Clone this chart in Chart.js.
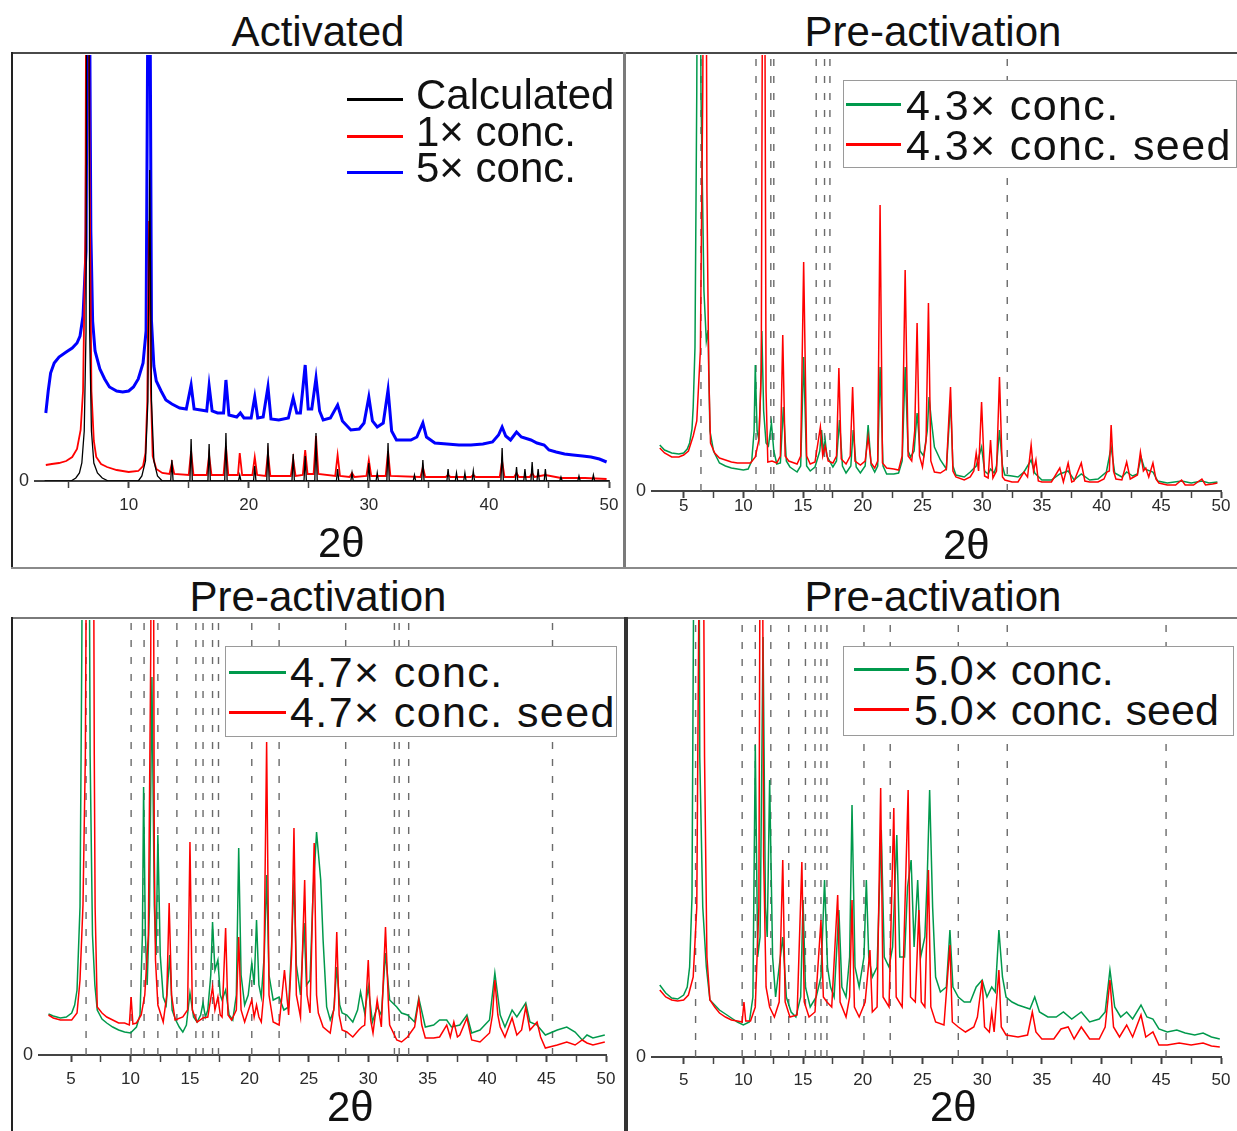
<!DOCTYPE html>
<html lang="en">
<head>
  <meta charset="UTF-8">
  <title>PXRD: activated and pre-activation patterns</title>
  <style>
    body {
      margin: 0;
      background: #fff;
      font-family: 'Liberation Sans', Arial, sans-serif;
      color: #111;
    }

    #figure {
      position: relative;
      width: 1237px;
      height: 1131px;
      overflow: hidden;
    }

    .rule { position: absolute; }

    .panel-title {
      position: absolute;
      font-size: 42px;
      line-height: 42px;
      white-space: nowrap;
      transform: translateX(-50%);
    }

    .axis-label {
      position: absolute;
      font-size: 42px;
      line-height: 42px;
      white-space: nowrap;
    }

    canvas.plot { position: absolute; }

    /* Legends */
    .legend {
      position: absolute;
      font-size: 42px;
      white-space: nowrap;
    }
    .legend.boxed {
      background: #fff;
      border: 1.5px solid #9a9a9a;
      box-sizing: border-box;
      font-size: 43px;
    }
    .legend .row { position: relative; }
    .legend .swatch {
      position: absolute;
      height: 3px;
    }
  </style>
</head>
<body>
  <div id="figure">
    <!-- frame rules -->
    <div class="rule" style="left:11px; top:52px; width:1226px; height:2px; background:#4a4a4a;"></div>
    <div class="rule" style="left:11px; top:52px; width:2px; height:517px; background:#222;"></div>
    <div class="rule" style="left:623px; top:52px; width:3px; height:517px; background:#7a7a7a;"></div>
    <div class="rule" style="left:11px; top:567px; width:1226px; height:2px; background:#8a8a8a;"></div>
    <div class="rule" style="left:11px; top:617px; width:1226px; height:2px; background:#7a7a7a;"></div>
    <div class="rule" style="left:11px; top:617px; width:2px; height:514px; background:#222;"></div>
    <div class="rule" style="left:624px; top:617px; width:4px; height:514px; background:#333;"></div>

    <!-- panel titles -->
    <div class="panel-title" style="left:318px; top:11px;">Activated</div>
    <div class="panel-title" style="left:933px; top:11px;">Pre-activation</div>
    <div class="panel-title" style="left:318px; top:576px;">Pre-activation</div>
    <div class="panel-title" style="left:933px; top:576px;">Pre-activation</div>

    <canvas id="chartActivated" class="plot" width="612" height="466" style="left:12px; top:55px;"></canvas>
    <canvas id="chart43" class="plot" width="609" height="476" style="left:628px; top:55px;"></canvas>
    <canvas id="chart47" class="plot" width="612" height="475" style="left:12px; top:620px;"></canvas>
    <canvas id="chart50" class="plot" width="608" height="477" style="left:629px; top:620px;"></canvas>

    <!-- x axis titles -->
    <div class="axis-label" style="left:318px; top:522px;">2θ</div>
    <div class="axis-label" style="left:943px; top:524px;">2θ</div>
    <div class="axis-label" style="left:327px; top:1086px;">2θ</div>
    <div class="axis-label" style="left:930px; top:1086px;">2θ</div>

    <div id="legendActivated" class="legend" style="left:347px; top:77px;"></div>
    <div id="legend43" class="legend boxed" style="left:843px; top:80px; width:394px; height:88px; letter-spacing:1.4px;"></div>
    <div id="legend47" class="legend boxed" style="left:225px; top:646px; width:392px; height:91px; letter-spacing:1.4px;"></div>
    <div id="legend50" class="legend boxed" style="left:843px; top:646px; width:391px; height:90px;"></div>
  </div>

  <script src="https://cdn.jsdelivr.net/npm/chart.js"></script>
  <script>
    // ---- data: [2theta, intensity] (intensity in arbitrary units) ----

    // Activated panel
    const calcPattern = [
      [3.0, 0], [5.2, 0], [5.6, 3], [5.9, 8], [6.1, 18], [6.3, 50], [6.45, 150], [6.6, 1200], [6.75, 150],
      [6.9, 50], [7.1, 18], [7.4, 8], [7.8, 3], [8.3, 0], [10.8, 0], [11.1, 5], [11.4, 20], [11.6, 80],
      [11.75, 311], [11.9, 80], [12.1, 20], [12.4, 5], [12.8, 0],
      [13.5, 0], [13.6, 21], [13.7, 0], [15.1, 0], [15.2, 42], [15.3, 0], [16.6, 0], [16.7, 37], [16.8, 0],
      [18.0, 0], [18.1, 48], [18.2, 0], [19.15, 0], [19.25, 6], [19.35, 0], [20.4, 0], [20.5, 15], [20.6, 0],
      [21.5, 0], [21.6, 38], [21.7, 0], [23.6, 0], [23.7, 27], [23.8, 0], [24.6, 0], [24.7, 25], [24.8, 0],
      [25.5, 0], [25.6, 48], [25.7, 0], [27.3, 0], [27.4, 12], [27.5, 0], [28.5, 0], [28.6, 8], [28.7, 0],
      [29.9, 0], [30.0, 18], [30.1, 0], [30.6, 0], [30.7, 8], [30.8, 0], [31.5, 0], [31.6, 38], [31.7, 0],
      [33.7, 0], [33.8, 6], [33.9, 0], [34.4, 0], [34.5, 21], [34.6, 0], [36.5, 0], [36.6, 12], [36.7, 0],
      [37.2, 0], [37.3, 8], [37.4, 0], [37.9, 0], [38.0, 8], [38.1, 0], [38.6, 0], [38.7, 10], [38.8, 0],
      [41.0, 0], [41.1, 33], [41.2, 0], [42.2, 0], [42.3, 14], [42.4, 0], [42.9, 0], [43.0, 12], [43.1, 0],
      [43.5, 0], [43.6, 19], [43.7, 0], [44.0, 0], [44.1, 12], [44.2, 0], [44.6, 0], [44.7, 12], [44.8, 0],
      [45.9, 0], [46.0, 4], [46.1, 0], [47.4, 0], [47.5, 5], [47.6, 0], [48.6, 0], [48.7, 6], [48.8, 0], [50.0, 0]
    ];
    const conc1Pattern = [
      [3.1, 16], [3.6, 17], [4.2, 18], [4.8, 20], [5.3, 24], [5.7, 32], [6.0, 51], [6.2, 90], [6.4, 250],
      [6.55, 900], [6.75, 300], [6.9, 90], [7.1, 40], [7.3, 24], [7.7, 17], [8.2, 14], [9.0, 11], [10.0, 9],
      [10.8, 10], [11.2, 15], [11.4, 28], [11.55, 80], [11.7, 260], [11.85, 90], [12.0, 25], [12.3, 12],
      [12.8, 8], [13.4, 7], [13.6, 18], [13.8, 7], [15.0, 6], [15.2, 30], [15.4, 6], [16.5, 6], [16.7, 26],
      [16.9, 6], [17.9, 6], [18.1, 35], [18.3, 6], [19.1, 6], [19.25, 28], [19.45, 6], [20.3, 6], [20.5, 24],
      [20.7, 6], [21.4, 5], [21.6, 28], [21.8, 5], [23.5, 5], [23.7, 22], [23.9, 5], [24.5, 6], [24.7, 31],
      [24.9, 7], [25.4, 7], [25.6, 45], [25.8, 7], [27.2, 5], [27.4, 26], [27.6, 5], [28.4, 4], [28.6, 8],
      [28.8, 4], [29.8, 5], [30.0, 21], [30.2, 5], [31.4, 5], [31.6, 30], [31.8, 5], [34.3, 4], [34.5, 14],
      [34.7, 4], [36.4, 4], [36.6, 6], [36.8, 4], [38.5, 4], [38.7, 6], [38.9, 4], [40.9, 4], [41.1, 20],
      [41.3, 4], [42.1, 4], [42.3, 8], [42.5, 4], [43.4, 4], [43.6, 8], [43.8, 4], [44.7, 6], [46.0, 3],
      [48.0, 3], [49.8, 2]
    ];
    const conc5Pattern = [
      [3.1, 68], [3.3, 90], [3.5, 108], [3.8, 118], [4.2, 124], [4.8, 129], [5.3, 133], [5.7, 138],
      [5.95, 145], [6.2, 165], [6.45, 230], [6.65, 700], [6.85, 250], [7.0, 160], [7.2, 130], [7.6, 112],
      [8.0, 102], [8.4, 94], [9.0, 90], [9.5, 89], [10.0, 90], [10.4, 94], [10.8, 102], [11.2, 118],
      [11.45, 150], [11.7, 700], [11.9, 160], [12.1, 115], [12.3, 100], [12.7, 90], [13.1, 81], [13.6, 77],
      [14.25, 73], [14.8, 72], [15.2, 96], [15.45, 72], [16.0, 71], [16.5, 70], [16.7, 95], [16.95, 70],
      [17.4, 68], [17.9, 68], [18.1, 101], [18.35, 66], [19.0, 64], [19.3, 68], [19.6, 63], [20.2, 63],
      [20.5, 84], [20.75, 63], [21.2, 64], [21.6, 94], [21.85, 62], [22.5, 61], [23.3, 63], [23.7, 83],
      [24.0, 68], [24.3, 68], [24.7, 116], [24.95, 72], [25.25, 72], [25.6, 103], [25.9, 70], [26.2, 61],
      [26.8, 63], [27.4, 76], [27.8, 60], [28.5, 51], [29.2, 52], [29.6, 58], [30.0, 84], [30.3, 60],
      [30.7, 54], [31.2, 58], [31.6, 91], [31.9, 50], [32.3, 41], [33.0, 41], [33.5, 41], [34.0, 44],
      [34.5, 58], [34.8, 44], [35.5, 38], [36.5, 37], [37.5, 36], [38.5, 36], [39.5, 37], [40.3, 39],
      [40.8, 46], [41.1, 54], [41.4, 45], [41.8, 41], [42.3, 49], [42.7, 44], [43.5, 41], [44.0, 38],
      [44.6, 36], [45.0, 31], [45.6, 29], [46.3, 27], [47.0, 26], [47.8, 25], [48.5, 24], [49.2, 22], [49.8, 19]
    ];

    // Pre-activation, 4.3x
    const conc43 = [
      [3.0, 46], [3.4, 41], [4.0, 38], [4.6, 37], [5.0, 38], [5.3, 42], [5.5, 48], [5.7, 62], [5.8, 84],
      [5.95, 144], [6.1, 400], [6.25, 900], [6.45, 400], [6.7, 200], [6.9, 150], [7.05, 161], [7.2, 60],
      [7.5, 40], [8.0, 28], [8.5, 25], [9.0, 23], [9.5, 22], [10.0, 21], [10.4, 22], [10.7, 30], [10.9, 60],
      [11.0, 126], [11.15, 60], [11.3, 51], [11.45, 100], [11.55, 160], [11.7, 80], [11.9, 48], [12.1, 45],
      [12.35, 68], [12.55, 40], [12.8, 27], [13.1, 28], [13.35, 84], [13.6, 30], [13.9, 24], [14.5, 19],
      [14.8, 25], [15.05, 134], [15.3, 25], [15.6, 20], [16.0, 24], [16.4, 40], [16.55, 61], [16.7, 40],
      [16.85, 51], [17.0, 35], [17.5, 24], [17.8, 30], [18.05, 71], [18.3, 25], [18.6, 18], [19.0, 25],
      [19.2, 61], [19.45, 24], [19.8, 18], [20.2, 25], [20.45, 66], [20.7, 26], [21.0, 19], [21.25, 25],
      [21.45, 124], [21.7, 25], [22.0, 17], [22.6, 17], [23.0, 18], [23.3, 30], [23.55, 124], [23.8, 40],
      [24.0, 34], [24.3, 40], [24.55, 78], [24.8, 40], [25.1, 35], [25.4, 60], [25.55, 94], [25.75, 70],
      [26.0, 44], [26.5, 31], [27.0, 22], [27.2, 60], [27.35, 91], [27.55, 25], [27.8, 16], [28.5, 14],
      [29.0, 19], [29.5, 25], [29.95, 44], [30.2, 20], [30.5, 17], [30.7, 22], [31.0, 18], [31.2, 25],
      [31.45, 61], [31.7, 25], [31.9, 16], [32.5, 15], [33.0, 14], [33.5, 19], [34.1, 31], [34.4, 18],
      [35.0, 11], [35.8, 11], [36.5, 17], [37.2, 20], [37.7, 11], [38.3, 17], [39.0, 11], [39.7, 12],
      [40.4, 19], [40.8, 44], [41.1, 18], [41.7, 14], [42.1, 19], [42.6, 15], [43.0, 17], [43.3, 34],
      [43.6, 22], [44.3, 19], [44.7, 10], [45.5, 8], [46.7, 10], [47.5, 8], [48.4, 10], [49.0, 8], [49.7, 9]
    ];
    const conc43Seed = [
      [3.0, 43], [3.4, 38], [4.0, 34], [4.6, 34], [5.0, 36], [5.4, 40], [5.8, 55], [6.1, 70], [6.4, 140],
      [6.6, 400], [6.8, 900], [6.95, 300], [7.1, 120], [7.25, 48], [7.6, 38], [8.0, 33], [8.5, 31], [9.0, 29],
      [9.5, 28], [10.0, 28], [10.6, 28], [11.0, 34], [11.3, 51], [11.5, 120], [11.7, 900], [11.9, 100],
      [12.05, 29], [12.4, 30], [12.8, 28], [13.1, 35], [13.3, 156], [13.5, 35], [13.8, 30], [14.5, 27],
      [14.8, 35], [15.05, 229], [15.3, 35], [15.6, 27], [16.0, 29], [16.45, 64], [16.65, 35], [16.85, 45],
      [17.1, 30], [17.5, 28], [17.8, 35], [18.0, 123], [18.2, 32], [18.6, 27], [18.95, 35], [19.15, 104],
      [19.35, 30], [19.8, 26], [20.2, 30], [20.45, 54], [20.7, 28], [21.0, 23], [21.25, 30], [21.45, 286],
      [21.65, 28], [22.0, 23], [22.6, 22], [23.0, 21], [23.3, 35], [23.55, 221], [23.8, 35], [24.1, 30],
      [24.35, 60], [24.55, 168], [24.75, 35], [25.0, 24], [25.3, 50], [25.5, 188], [25.7, 30], [26.0, 19],
      [26.5, 18], [27.0, 22], [27.2, 70], [27.35, 104], [27.55, 20], [27.8, 14], [28.5, 11], [29.0, 14],
      [29.3, 20], [29.5, 38], [29.7, 20], [29.95, 89], [30.2, 15], [30.5, 13], [30.7, 51], [30.9, 13],
      [31.2, 20], [31.45, 114], [31.7, 14], [31.9, 11], [32.5, 9], [33.0, 9], [33.5, 19], [33.8, 14],
      [34.1, 46], [34.3, 20], [34.5, 31], [34.7, 10], [35.0, 9], [35.8, 9], [36.5, 23], [36.8, 9],
      [37.2, 28], [37.5, 9], [37.7, 10], [38.3, 28], [38.6, 10], [39.0, 9], [39.7, 9], [40.2, 12],
      [40.45, 19], [40.65, 20], [40.8, 66], [41.0, 20], [41.2, 12], [41.7, 11], [42.1, 29], [42.4, 12],
      [43.0, 16], [43.25, 39], [43.5, 20], [43.7, 23], [43.95, 14], [44.3, 28], [44.55, 12], [44.8, 8],
      [45.5, 6], [46.2, 6], [46.7, 11], [47.0, 6], [47.7, 6], [48.4, 12], [48.7, 6], [49.3, 7], [49.7, 8]
    ];
    const refLines43 = [6.45, 11.06, 12.3, 12.55, 16.1, 16.8, 17.25, 32.1];

    // Pre-activation, 4.7x
    const conc47 = [
      [3.1, 41], [3.5, 39], [4.1, 37], [4.6, 38], [5.05, 42], [5.3, 50], [5.5, 65], [5.75, 148], [5.9, 400],
      [6.1, 900], [6.4, 900], [6.6, 300], [6.8, 120], [7.0, 70], [7.2, 45], [7.6, 36], [8.0, 32], [8.5, 28],
      [9.0, 25], [9.5, 23], [10.0, 22], [10.5, 28], [10.8, 40], [11.0, 120], [11.1, 268], [11.25, 120],
      [11.4, 70], [11.6, 150], [11.8, 378], [12.0, 150], [12.15, 100], [12.3, 220], [12.5, 100], [12.75, 58],
      [13.0, 50], [13.3, 100], [13.5, 45], [13.8, 35], [14.1, 28], [14.4, 23], [14.7, 30], [15.0, 62],
      [15.3, 38], [15.6, 33], [15.9, 40], [16.1, 52], [16.3, 38], [16.5, 45], [16.75, 80], [16.9, 133],
      [17.1, 85], [17.35, 95], [17.55, 60], [17.7, 55], [18.0, 65], [18.3, 40], [18.6, 35], [18.9, 60],
      [19.1, 207], [19.3, 80], [19.6, 50], [19.9, 60], [20.2, 92], [20.4, 70], [20.6, 135], [20.8, 70],
      [21.0, 58], [21.25, 100], [21.45, 180], [21.65, 80], [22.0, 55], [22.5, 58], [22.9, 45], [23.3, 48],
      [23.55, 110], [23.75, 175], [23.95, 90], [24.3, 60], [24.6, 132], [24.8, 70], [25.1, 75], [25.35, 160],
      [25.65, 223], [26.0, 175], [26.2, 115], [26.5, 48], [26.8, 35], [27.1, 45], [27.35, 88], [27.6, 50],
      [27.8, 42], [28.2, 40], [28.7, 33], [29.1, 45], [29.35, 63], [29.7, 42], [30.0, 68], [30.35, 33],
      [30.75, 48], [31.1, 40], [31.45, 102], [31.8, 55], [32.4, 48], [32.8, 42], [33.3, 40], [33.9, 33],
      [34.25, 57], [34.8, 28], [35.5, 30], [36.0, 35], [36.6, 35], [37.0, 28], [37.7, 30], [38.3, 40],
      [38.7, 22], [39.4, 25], [40.2, 35], [40.65, 82], [41.1, 40], [41.5, 28], [42.1, 45], [42.5, 38],
      [43.25, 52], [43.6, 33], [44.2, 30], [44.9, 20], [45.9, 25], [46.7, 28], [47.4, 23], [48.0, 15],
      [48.4, 20], [48.9, 17], [49.9, 20]
    ];
    const conc47Seed = [
      [3.1, 40], [3.5, 37], [4.1, 35], [4.6, 35], [5.05, 35], [5.5, 42], [5.75, 75], [6.0, 150], [6.2, 300],
      [6.45, 900], [6.8, 900], [6.95, 300], [7.02, 148], [7.2, 48], [7.6, 42], [8.0, 38], [8.5, 35],
      [9.0, 32], [9.5, 32], [9.9, 30], [10.05, 58], [10.2, 31], [10.5, 32], [10.9, 40], [11.2, 60],
      [11.5, 120], [11.7, 400], [11.85, 900], [12.0, 200], [12.1, 95], [12.3, 50], [12.75, 33], [13.05, 60],
      [13.25, 152], [13.45, 60], [13.75, 35], [14.4, 38], [14.8, 45], [15.0, 213], [15.2, 45], [15.6, 33],
      [16.1, 37], [16.5, 38], [16.9, 68], [17.1, 45], [17.35, 58], [17.55, 40], [17.7, 38], [18.0, 127],
      [18.2, 40], [18.5, 35], [18.9, 45], [19.1, 118], [19.3, 45], [19.6, 33], [20.2, 55], [20.4, 38],
      [20.6, 50], [20.8, 38], [21.0, 33], [21.2, 60], [21.45, 313], [21.65, 60], [22.0, 33], [22.5, 30],
      [22.95, 85], [23.3, 40], [23.55, 100], [23.75, 227], [23.95, 60], [24.3, 38], [24.65, 175], [24.85, 60],
      [25.1, 42], [25.45, 212], [25.65, 60], [25.8, 42], [26.2, 28], [26.8, 22], [27.15, 50], [27.35, 123],
      [27.55, 40], [27.8, 25], [28.2, 23], [28.7, 18], [29.2, 25], [29.45, 28], [29.7, 30], [30.0, 95],
      [30.2, 35], [30.4, 22], [30.75, 55], [31.1, 28], [31.45, 128], [31.7, 50], [31.8, 30], [32.4, 15],
      [32.8, 13], [33.3, 18], [33.9, 28], [34.25, 55], [34.5, 30], [34.8, 17], [35.5, 17], [36.0, 18],
      [36.6, 30], [36.9, 18], [37.2, 33], [37.5, 18], [37.7, 20], [38.3, 37], [38.7, 15], [39.4, 13],
      [40.2, 22], [40.45, 40], [40.65, 75], [40.9, 40], [41.1, 28], [41.5, 18], [42.1, 37], [42.5, 20],
      [42.9, 25], [43.25, 48], [43.6, 25], [44.2, 33], [44.5, 18], [44.9, 7], [45.9, 10], [46.7, 13],
      [47.4, 10], [48.0, 15], [48.4, 12], [48.9, 10], [49.9, 13]
    ];
    const refLines47 = [6.26, 10.05, 11.14, 12.3, 13.9, 15.5, 16.1, 16.9, 17.4, 20.2, 22.5, 28.1, 32.2, 32.6, 33.4, 45.5];

    // Pre-activation, 5.0x
    const conc50 = [
      [3.0, 72], [3.5, 64], [4.0, 59], [4.5, 58], [5.0, 62], [5.3, 70], [5.5, 90], [5.7, 160], [5.85, 500],
      [6.0, 900], [6.2, 900], [6.35, 300], [6.6, 150], [6.9, 90], [7.2, 57], [7.6, 52], [8.0, 47], [8.5, 43],
      [9.0, 39], [9.5, 35], [10.0, 32], [10.5, 35], [10.8, 60], [11.0, 312], [11.2, 100], [11.4, 120],
      [11.65, 420], [11.85, 150], [12.0, 120], [12.2, 277], [12.45, 100], [12.7, 60], [13.0, 90], [13.3, 120],
      [13.6, 60], [14.0, 45], [14.4, 40], [14.8, 60], [15.0, 157], [15.2, 70], [15.6, 50], [16.1, 60],
      [16.5, 80], [16.8, 177], [17.05, 90], [17.3, 70], [17.6, 60], [18.0, 147], [18.25, 70], [18.6, 60],
      [18.9, 100], [19.1, 252], [19.35, 90], [19.7, 70], [20.1, 100], [20.3, 177], [20.5, 100], [20.8, 80],
      [21.2, 90], [21.55, 227], [21.8, 100], [22.2, 90], [22.5, 110], [22.85, 222], [23.1, 100], [23.5, 100],
      [23.75, 170], [24.05, 197], [24.3, 110], [24.6, 177], [24.85, 100], [25.2, 120], [25.4, 180],
      [25.6, 267], [25.85, 150], [26.1, 80], [26.5, 65], [27.0, 70], [27.3, 127], [27.55, 70], [28.0, 60],
      [28.5, 55], [29.0, 55], [29.5, 70], [30.0, 77], [30.4, 60], [30.8, 70], [31.1, 65], [31.4, 127],
      [31.7, 80], [32.0, 60], [32.5, 55], [33.0, 52], [33.5, 50], [34.0, 48], [34.4, 60], [34.8, 45],
      [35.5, 40], [36.2, 40], [36.8, 45], [37.5, 38], [38.3, 45], [39.0, 35], [39.8, 38], [40.3, 45],
      [40.7, 87], [41.1, 50], [41.6, 40], [42.1, 45], [42.6, 38], [43.3, 52], [43.8, 40], [44.3, 38],
      [44.8, 28], [45.5, 25], [46.3, 27], [47.0, 24], [47.8, 22], [48.5, 24], [49.2, 20], [49.9, 18]
    ];
    const conc50Seed = [
      [3.0, 67], [3.5, 60], [4.0, 57], [4.5, 56], [5.0, 57], [5.4, 62], [5.8, 80], [6.1, 150], [6.3, 500],
      [6.5, 900], [6.75, 300], [6.95, 100], [7.2, 57], [7.6, 50], [8.0, 44], [8.5, 40], [9.0, 37], [9.5, 36],
      [9.9, 35], [10.05, 55], [10.2, 36], [10.6, 36], [11.0, 50], [11.3, 150], [11.5, 900], [11.7, 200],
      [11.9, 70], [12.2, 50], [12.6, 40], [13.0, 55], [13.3, 197], [13.5, 55], [13.9, 40], [14.5, 42],
      [14.9, 195], [15.1, 55], [15.5, 40], [16.0, 45], [16.5, 137], [16.7, 60], [17.0, 55], [17.4, 50],
      [17.9, 162], [18.1, 55], [18.6, 40], [18.9, 60], [19.1, 157], [19.3, 50], [19.7, 40], [20.2, 55],
      [20.6, 107], [20.8, 45], [21.2, 50], [21.5, 269], [21.7, 60], [22.2, 50], [22.6, 249], [22.8, 60],
      [23.3, 50], [23.8, 267], [24.0, 60], [24.4, 55], [24.7, 147], [24.9, 55], [25.2, 50], [25.5, 187],
      [25.7, 50], [26.1, 35], [26.8, 32], [27.3, 112], [27.5, 35], [28.0, 30], [28.6, 25], [29.3, 30],
      [29.6, 40], [30.0, 77], [30.2, 30], [30.6, 25], [30.8, 45], [31.0, 25], [31.4, 87], [31.6, 30],
      [32.0, 22], [33.0, 20], [33.8, 22], [34.2, 45], [34.5, 25], [35.0, 18], [36.0, 18], [36.6, 28],
      [37.2, 30], [37.7, 18], [38.3, 30], [39.0, 18], [39.8, 18], [40.3, 30], [40.7, 77], [41.0, 30],
      [41.5, 20], [42.1, 32], [42.6, 20], [43.3, 42], [43.7, 20], [44.3, 25], [44.8, 12], [45.5, 12],
      [46.5, 14], [47.5, 12], [48.5, 14], [49.2, 11], [49.9, 10]
    ];
    const refLines50 = [6.0, 9.9, 11.0, 12.3, 13.8, 15.2, 16.0, 16.5, 17.0, 20.1, 22.3, 28.0, 32.1, 45.4];

    // tick values
    const ticksActivated = [10, 20, 30, 40, 50];
    const minorActivated = [5, 15, 25, 35, 45];
    const ticksPre = [5, 10, 15, 20, 25, 30, 35, 40, 45, 50];
    const minorPre = [7.5, 12.5, 17.5, 22.5, 27.5, 32.5, 37.5, 42.5, 47.5];

    const GREEN = '#00994c';
    const RED = '#ff0000';

    const toXY = arr => arr.map(([x, y]) => ({ x, y }));

    // each reference line runs from the baseline to the top of the plot
    function refPoints(lines, yMax) {
      const pts = [];
      lines.forEach(x => {
        pts.push({ x, y: 0 }, { x, y: yMax }, { x, y: null });
      });
      return pts;
    }

    function buildPanel(id, p) {
      const datasets = p.series.map(s => ({
        label: s.label,
        data: toXY(s.data),
        borderColor: s.color,
        borderWidth: s.width,
        pointRadius: 0,
        tension: 0,
        fill: false,
        order: s.order
      }));
      if (p.refLines) {
        datasets.push({
          label: 'reference',
          data: refPoints(p.refLines, p.yMax),
          borderColor: '#6b6b6b',
          borderWidth: 1.4,
          borderDash: [7, 10],
          pointRadius: 0,
          spanGaps: false,
          order: 50
        });
      }
      const labelled = p.ticks;
      const allTicks = p.ticks.concat(p.minor).sort((a, b) => a - b);

      new Chart(document.getElementById(id), {
        type: 'line',
        data: { datasets },
        options: {
          responsive: false,
          animation: false,
          devicePixelRatio: 1,
          layout: { padding: { left: 0, right: p.padRight, top: 0, bottom: 0 } },
          plugins: { legend: { display: false }, tooltip: { enabled: false } },
          scales: {
            x: {
              type: 'linear',
              min: p.xMin,
              max: 50,
              afterBuildTicks: s => { s.ticks = allTicks.map(v => ({ value: v })); },
              afterFit: s => { s.height = 40; s.paddingLeft = 0; s.paddingRight = 0; },
              ticks: {
                autoSkip: false,
                maxRotation: 0,
                padding: p.tickPad,
                color: '#2a2a2a',
                font: { family: "'Liberation Sans', Arial, sans-serif", size: 17 },
                callback: v => labelled.includes(v) ? String(v) : ''
              },
              grid: {
                drawOnChartArea: false,
                drawTicks: true,
                tickLength: 7,
                tickColor: '#444',
                tickWidth: c => (c.tick && labelled.includes(c.tick.value)) ? 2 : 1.5
              },
              border: { display: true, color: '#444', width: 2 }
            },
            y: {
              min: 0,
              max: p.yMax,
              afterBuildTicks: s => { s.ticks = [{ value: 0 }]; },
              afterFit: s => { s.width = p.yWidth; s.paddingTop = 0; s.paddingBottom = 0; },
              ticks: {
                padding: 6,
                color: '#2a2a2a',
                font: { family: "'Liberation Sans', Arial, sans-serif", size: 18 }
              },
              grid: { display: false, drawTicks: false },
              border: { display: false }
            }
          }
        }
      });

      // legend drawn as html text from the series list
      const box = document.getElementById(p.legend.id);
      p.series.slice().sort((a, b) => a.legendIndex - b.legendIndex).forEach(s => {
        const row = document.createElement('div');
        row.className = 'row';
        row.style.height = p.legend.rowHeight + 'px';
        row.style.lineHeight = p.legend.rowHeight + 'px';
        row.style.paddingLeft = p.legend.textLeft + 'px';
        const sw = document.createElement('span');
        sw.className = 'swatch';
        sw.style.left = p.legend.swatchLeft + 'px';
        sw.style.width = p.legend.swatchWidth + 'px';
        sw.style.top = p.legend.swatchTop + 'px';
        sw.style.background = s.color;
        row.appendChild(sw);
        row.appendChild(document.createTextNode(s.label));
        box.appendChild(row);
      });
      if (p.legend.padTop) box.style.paddingTop = p.legend.padTop + 'px';
    }

    buildPanel('chartActivated', {
      xMin: 2.2, yMax: 426, yWidth: 23, padRight: 15, tickPad: 7,
      ticks: ticksActivated, minor: minorActivated,
      series: [
        { label: 'Calculated', data: calcPattern, color: '#000', width: 1.3, order: 1, legendIndex: 0 },
        { label: '1× conc.', data: conc1Pattern, color: RED, width: 1.8, order: 2, legendIndex: 1 },
        { label: '5× conc.', data: conc5Pattern, color: '#0000ff', width: 3, order: 3, legendIndex: 2 }
      ],
      legend: { id: 'legendActivated', rowHeight: 36.5, textLeft: 69, swatchLeft: 0, swatchWidth: 56, swatchTop: 21 }
    });

    buildPanel('chart43', {
      xMin: 2.35, yMax: 436, yWidth: 24, padRight: 16, tickPad: -2,
      ticks: ticksPre, minor: minorPre, refLines: refLines43,
      series: [
        { label: '4.3× conc.', data: conc43, color: GREEN, width: 1.5, order: 2, legendIndex: 0 },
        { label: '4.3× conc. seed', data: conc43Seed, color: RED, width: 1.5, order: 1, legendIndex: 1 }
      ],
      legend: { id: 'legend43', rowHeight: 40, textLeft: 62, swatchLeft: 2, swatchWidth: 55, swatchTop: 18, padTop: 4 }
    });

    buildPanel('chart47', {
      xMin: 2.3, yMax: 435, yWidth: 27, padRight: 18, tickPad: 7,
      ticks: ticksPre, minor: minorPre, refLines: refLines47,
      series: [
        { label: '4.7× conc.', data: conc47, color: GREEN, width: 1.5, order: 2, legendIndex: 0 },
        { label: '4.7× conc. seed', data: conc47Seed, color: RED, width: 1.5, order: 1, legendIndex: 1 }
      ],
      legend: { id: 'legend47', rowHeight: 40, textLeft: 64, swatchLeft: 3, swatchWidth: 57, swatchTop: 19, padTop: 5 }
    });

    buildPanel('chart50', {
      xMin: 2.35, yMax: 437, yWidth: 23, padRight: 16, tickPad: 6,
      ticks: ticksPre, minor: minorPre, refLines: refLines50,
      series: [
        { label: '5.0× conc.', data: conc50, color: GREEN, width: 1.5, order: 2, legendIndex: 0 },
        { label: '5.0× conc. seed', data: conc50Seed, color: RED, width: 1.5, order: 1, legendIndex: 1 }
      ],
      legend: { id: 'legend50', rowHeight: 40, textLeft: 70, swatchLeft: 10, swatchWidth: 55, swatchTop: 18, padTop: 3 }
    });
  </script>
</body>
</html>
